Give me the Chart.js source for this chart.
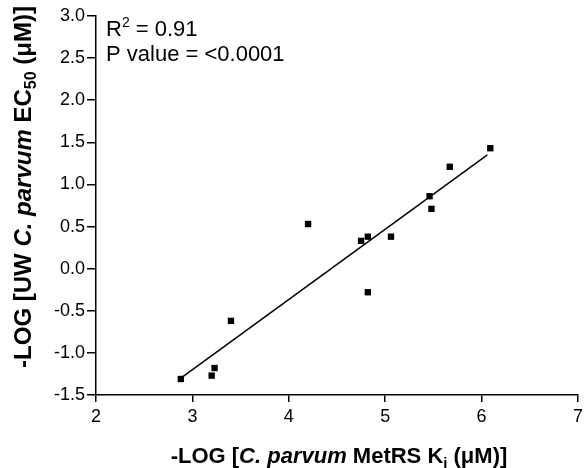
<!DOCTYPE html>
<html>
<head>
<meta charset="utf-8">
<script src="https://cdn.jsdelivr.net/npm/chart.js@4"></script>
<style>
  html, body { margin: 0; padding: 0; background: #fff; }
  canvas { display: block; }
</style>
</head>
<body>
<canvas id="grafico" width="587" height="468"></canvas>
<script>
// valores
const kiMetRS = [2.88, 3.20, 3.23, 3.40, 4.20, 4.75, 4.82, 4.82, 5.06, 5.46, 5.48, 5.67, 6.09];
const ec50UW = [-1.31, -1.27, -1.18, -0.62, 0.53, 0.33, 0.38, -0.28, 0.38, 0.86, 0.71, 1.21, 1.43];
// extremos de la recta de regresion
const rectaX = [2.88, 6.06];
const rectaY = [-1.30, 1.35];
const textoR2 = "0.91";
const textoP = "P value = <0.0001";

const FAM = '"Liberation Sans", Arial, sans-serif';

// dibuja texto con partes de distinto estilo (cursiva, subindice...)
function textoMixto(ctx, partes, x, y, angulo) {
  ctx.save();
  ctx.translate(x, y);
  ctx.rotate(angulo || 0);
  ctx.textBaseline = "alphabetic";
  ctx.textAlign = "left";
  let total = 0;
  partes.forEach((p) => {
    ctx.font = p.f;
    total += ctx.measureText(p.t).width;
  });
  let cx = -total / 2;
  partes.forEach((p) => {
    ctx.font = p.f;
    ctx.fillText(p.t, cx, p.dy || 0);
    cx += ctx.measureText(p.t).width;
  });
  ctx.restore();
}

const titulos = {
  id: "titulos",
  afterDraw(chart) {
    const ctx = chart.ctx;
    ctx.fillStyle = "#000";
    // titulo eje x
    textoMixto(ctx, [
      { t: "-LOG [", f: "bold 22px " + FAM },
      { t: "C. parvum", f: "italic bold 22px " + FAM },
      { t: " MetRS K", f: "bold 22px " + FAM },
      { t: "i", f: "bold 15px " + FAM, dy: 5 },
      { t: " (\u03BCM)]", f: "bold 22px " + FAM },
    ], 339, 463);
    // titulo eje y
    textoMixto(ctx, [
      { t: "-LOG [UW ", f: "bold 24px " + FAM },
      { t: "C. parvum", f: "italic bold 24px " + FAM },
      { t: " EC", f: "bold 24px " + FAM },
      { t: "50", f: "bold 16px " + FAM, dy: 5 },
      { t: " (\u03BCM)]", f: "bold 24px " + FAM },
    ], 31, 187, -Math.PI / 2);
    // anotacion
    ctx.textAlign = "left";
    ctx.textBaseline = "alphabetic";
    ctx.font = "22px " + FAM;
    ctx.fillText("R", 106, 36);
    const wR = ctx.measureText("R").width;
    ctx.font = "14px " + FAM;
    ctx.fillText("2", 106 + wR, 27);
    const w2 = ctx.measureText("2").width;
    ctx.font = "22px " + FAM;
    ctx.fillText(" = " + textoR2, 106 + wR + w2, 36);
    ctx.fillText(textoP, 106, 61);
  },
};

const puntos = kiMetRS.map((x, i) => ({ x: x, y: ec50UW[i] }));
const recta = rectaX.map((x, i) => ({ x: x, y: rectaY[i] }));

new Chart(document.getElementById("grafico"), {
  type: "scatter",
  data: {
    datasets: [
      {
        data: puntos,
        pointStyle: "rect",
        pointRadius: 4.5,
        backgroundColor: "#000",
        borderColor: "#000",
        borderWidth: 0,
      },
      {
        data: recta,
        showLine: true,
        pointRadius: 0,
        borderColor: "#000",
        borderWidth: 1.5,
        fill: false,
      },
    ],
  },
  options: {
    responsive: false,
    animation: false,
    layout: { padding: { top: 16, right: 6, left: 0, bottom: 0 } },
    plugins: { legend: { display: false }, tooltip: { enabled: false } },
    scales: {
      x: {
        min: 2,
        max: 7,
        ticks: { stepSize: 1, color: "#000", font: { family: FAM, size: 18 }, padding: 4 },
        grid: { drawOnChartArea: false, color: "#000", lineWidth: 1.5, tickLength: 7 },
        border: { color: "#000", width: 1.5 },
        afterFit(s) { s.height = 73; },
      },
      y: {
        min: -1.5,
        max: 3.0,
        ticks: {
          stepSize: 0.5,
          color: "#000",
          font: { family: FAM, size: 18 },
          padding: 2,
          callback: (v) => v.toFixed(1),
        },
        grid: { drawOnChartArea: false, color: "#000", lineWidth: 1.5, tickLength: 9 },
        border: { color: "#000", width: 1.5 },
        afterFit(s) { s.width = 96; },
      },
    },
  },
  plugins: [titulos],
});
</script>
</body>
</html>
